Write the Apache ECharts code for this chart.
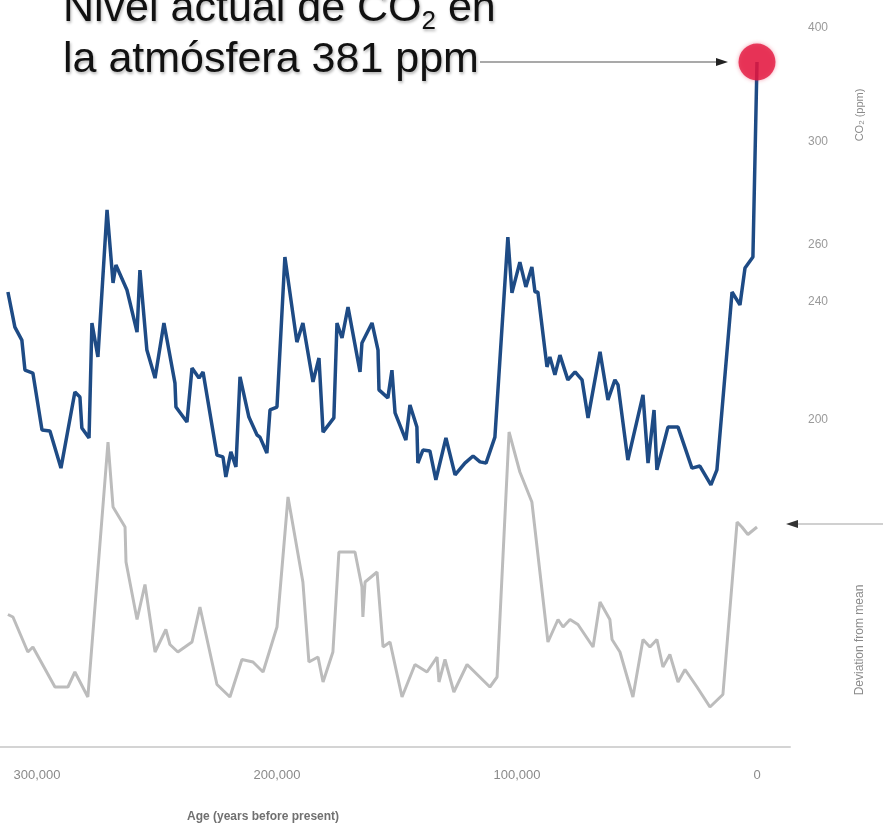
<!DOCTYPE html>
<html>
<head>
<meta charset="utf-8">
<script src="https://cdn.jsdelivr.net/npm/echarts@6/dist/echarts.min.js"></script>
<style>
  html, body { margin: 0; padding: 0; background: #fff; }
  #chart { width: 883px; height: 829px; }
</style>
</head>
<body>
<div id="chart"></div>
<script>
// CO2 record (age in thousand years before present, ppm)
const co2Age = [312.1,309.2,306.3,305.0,301.7,297.9,294.6,290.0,284.2,282.1,
  281.3,278.3,277.1,274.6,270.8,268.3,267.1,262.5,258.3,257.1,
  254.2,250.8,247.1,242.5,242.1,237.5,235.4,232.5,230.8,225.0,
  222.5,221.3,219.2,217.1,215.4,211.7,208.3,207.1,204.2,202.9,
  200.0,196.7,191.7,189.2,185.0,182.5,180.8,176.3,175.0,172.9,
  170.4,165.4,164.6,160.4,157.9,157.5,153.8,152.1,150.8,146.3,
  144.6,141.7,141.3,139.2,136.3,133.8,129.6,125.8,121.7,118.3,
  115.4,112.9,109.2,103.8,102.1,98.8,96.3,93.8,92.5,91.3,
  87.5,86.3,84.2,82.1,78.8,75.8,72.9,70.4,65.4,62.1,
  59.2,57.9,53.8,47.5,45.4,42.9,41.7,37.1,32.9,27.1,
  23.8,19.2,16.7,10.4,7.1,5.0,1.7,0];
const co2Ppm = [243.5,231.5,227.1,216.9,215.9,196.6,196.3,183.7,209.5,207.8,
  197.3,193.9,232.9,221.4,273.6,246.7,253.0,244.2,229.8,251.2,
  223.7,214.2,232.9,212.5,204.4,199.3,217.6,214.2,216.3,188.1,
  187.5,180.7,189.2,184.1,214.6,201.0,194.9,194.2,188.8,203.4,
  204.4,255.8,226.4,232.9,212.9,221.0,195.9,200.7,232.9,227.8,
  238.3,216.3,226.1,232.9,223.7,210.2,207.5,216.9,202.4,193.2,
  205.1,197.6,185.4,189.8,189.5,179.7,193.9,181.4,185.4,187.8,
  185.8,185.4,194.2,263.1,243.2,254.0,245.3,252.3,243.5,243.5,
  218.0,221.4,215.3,222.0,213.6,216.3,213.6,200.7,223.1,206.8,
  213.6,211.9,186.4,208.5,185.4,203.4,183.1,197.6,197.6,183.7,
  184.4,178.0,183.1,243.5,239.0,251.9,255.8,381];

// temperature deviation from mean (°C)
const tempAge = [312.1,310.0,303.8,301.7,292.5,287.1,284.2,278.8,270.4,268.3,
  263.3,262.9,258.3,255.0,250.8,246.3,244.6,241.3,235.4,232.1,
  225.0,219.6,214.6,210.0,205.8,200.0,195.4,189.2,186.7,182.9,
  180.8,176.7,174.2,167.5,164.6,164.2,163.3,158.3,155.8,152.9,
  147.9,142.5,137.5,133.3,132.5,130.0,126.3,120.8,111.3,108.3,
  103.3,98.8,93.8,87.1,82.9,80.8,77.9,74.6,68.3,65.4,
  61.3,60.4,57.1,51.7,47.5,44.6,41.7,39.2,36.3,32.9,
  30.0,25.0,19.6,14.2,8.3,6.3,3.8,0];
const tempDev = [-3.5,-3.6,-5.0,-4.8,-6.4,-6.4,-5.8,-6.8,3.4,0.8,
  0.0,-1.4,-3.7,-2.3,-5.0,-4.1,-4.7,-5.0,-4.6,-3.2,
  -6.3,-6.8,-5.3,-5.4,-5.8,-4.0,1.2,-2.2,-5.4,-5.2,
  -6.2,-5.0,-1.0,-1.0,-2.4,-3.6,-2.2,-1.8,-4.8,-4.6,
  -6.8,-5.5,-5.8,-5.2,-6.2,-5.3,-6.6,-5.5,-6.4,-6.0,
  3.8,2.2,1.0,-4.6,-3.7,-4.0,-3.7,-3.9,-4.8,-3.0,
  -3.7,-4.5,-5.0,-6.8,-4.5,-4.8,-4.5,-5.6,-5.1,-6.2,
  -5.7,-6.4,-7.2,-6.7,0.2,0.0,-0.3,0.0];

const currentCo2 = 381;
const co2TickLabels = [200, 240, 260, 300, 400];
const ageTickLabels = [0, 100, 200, 300];

// the original CO2 scale is stretched unevenly, so map ppm piecewise onto axis units
const knotPpm  = [180, 200, 240, 260, 300, 381, 400];
const knotUnit = [321, 380, 498, 555, 658, 738, 772];

function toUnit(p) {
  for (let i = 1; i < knotPpm.length; i++) {
    if (p <= knotPpm[i] || i === knotPpm.length - 1) {
      const t = (p - knotPpm[i - 1]) / (knotPpm[i] - knotPpm[i - 1]);
      return knotUnit[i - 1] + t * (knotUnit[i] - knotUnit[i - 1]);
    }
  }
}
function fromUnit(u) {
  for (let i = 1; i < knotUnit.length; i++) {
    if (u <= knotUnit[i] || i === knotUnit.length - 1) {
      const t = (u - knotUnit[i - 1]) / (knotUnit[i] - knotUnit[i - 1]);
      return knotPpm[i - 1] + t * (knotPpm[i] - knotPpm[i - 1]);
    }
  }
}

const co2Data = co2Age.map((a, i) => [a, toUnit(co2Ppm[i])]);
const tempData = tempAge.map((a, i) => [a, tempDev[i]]);

const chart = echarts.init(document.getElementById('chart'));

const sideText = { fill: '#8a8a8a', fontFamily: 'Liberation Sans', fontSize: 12 };

chart.setOption({
  animation: false,
  backgroundColor: '#fff',
  grid: { left: 0, right: 93, top: 0, bottom: 82 },
  xAxis: {
    type: 'value',
    inverse: true,
    min: -13.75,
    max: 315.4,
    splitLine: { show: false },
    axisTick: { show: false },
    axisLine: { show: true, onZero: false, lineStyle: { color: '#d4d4d4', width: 2 } },
    axisLabel: {
      customValues: ageTickLabels,
      margin: 22,
      color: '#8a8a8a',
      fontFamily: 'Liberation Sans',
      fontSize: 13,
      formatter: v => v === 0 ? '0' : (v * 1000).toLocaleString('en-US')
    }
  },
  yAxis: [
    {
      type: 'value',
      position: 'right',
      min: 53,
      max: 800,
      splitLine: { show: false },
      axisLine: { show: false },
      axisTick: { show: false },
      axisLabel: {
        customValues: co2TickLabels.map(toUnit),
        margin: 18,
        align: 'left',
        color: '#9a9a9a',
        fontFamily: 'Liberation Sans',
        fontSize: 12,
        formatter: v => String(Math.round(fromUnit(v)))
      }
    },
    {
      type: 'value',
      show: false,
      min: -8.8,
      max: 21.08
    }
  ],
  series: [
    {
      name: 'Temperature',
      type: 'line',
      yAxisIndex: 1,
      data: tempData,
      showSymbol: false,
      lineStyle: { color: '#bcbcbc', width: 3 },
      z: 2
    },
    {
      name: 'CO2',
      type: 'line',
      yAxisIndex: 0,
      data: co2Data,
      showSymbol: false,
      lineStyle: { color: '#1e4b85', width: 3.5 },
      z: 3
    },
    {
      name: 'Current CO2',
      type: 'scatter',
      yAxisIndex: 0,
      data: [[0, toUnit(currentCo2)]],
      symbolSize: 37,
      itemStyle: { color: '#e3173f', shadowBlur: 4, shadowColor: 'rgba(227,23,63,0.5)' },
      z: 4
    }
  ],
  graphic: [
    {
      type: 'text',
      left: 63,
      top: -16,
      style: {
        text: 'Nivel actual de CO{sub|2} en\nla atmósfera ' + currentCo2 + ' ppm',
        fill: '#111',
        fontFamily: 'Liberation Sans',
        fontSize: 43,
        lineHeight: 51,
        textShadowColor: 'rgba(0,0,0,0.3)',
        textShadowBlur: 3,
        textShadowOffsetX: 1,
        textShadowOffsetY: 2,
        rich: {
          sub: { fontSize: 26, lineHeight: 51, verticalAlign: 'bottom', padding: [0, 0, 0, 0], fill: '#111', fontFamily: 'Liberation Sans' }
        }
      }
    },
    { type: 'line', shape: { x1: 480, y1: 62, x2: 720, y2: 62 }, style: { stroke: '#555', lineWidth: 1.2 } },
    { type: 'polygon', shape: { points: [[728, 62], [716, 58], [716, 66]] }, style: { fill: '#222' } },
    { type: 'line', shape: { x1: 797, y1: 524, x2: 883, y2: 524 }, style: { stroke: '#d0d0d0', lineWidth: 2 } },
    { type: 'polygon', shape: { points: [[786, 524], [798, 520], [798, 528]] }, style: { fill: '#333' } },
    {
      type: 'text', x: 860, y: 115, rotation: Math.PI / 2,
      style: Object.assign({}, sideText, {
        text: 'CO{s|2} (ppm)', fontSize: 11,
        align: 'center', verticalAlign: 'middle', textAlign: 'center', textVerticalAlign: 'middle',
        rich: { s: { fontSize: 8, verticalAlign: 'bottom', fill: '#8a8a8a' } }
      })
    },
    {
      type: 'text', x: 860, y: 640, rotation: Math.PI / 2,
      style: Object.assign({}, sideText, {
        text: 'Deviation from mean',
        align: 'center', verticalAlign: 'middle', textAlign: 'center', textVerticalAlign: 'middle'
      })
    },
    {
      type: 'text', x: 187, y: 817,
      style: Object.assign({}, sideText, {
        text: 'Age (years before present)', fill: '#707070', fontWeight: 'bold',
        verticalAlign: 'middle', textVerticalAlign: 'middle'
      })
    }
  ]
});
</script>
</body>
</html>
